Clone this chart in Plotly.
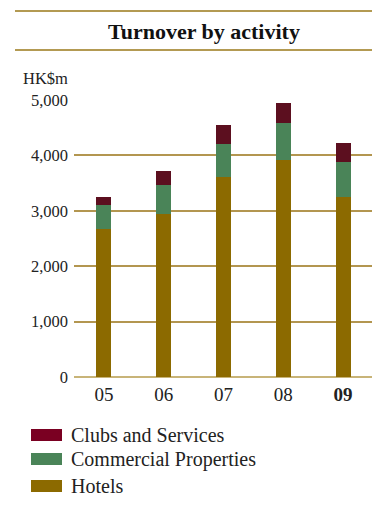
import plotly.graph_objects as go

years = ["05", "06", "07", "08", "09"]
year_labels = ["05", "06", "07", "08", "<b>09</b>"]
hotels = [2664, 2940, 3602, 3921, 3247]
commercial = [439, 524, 603, 663, 633]
clubs = [144, 253, 343, 362, 343]
y_ticks = [0, 1000, 2000, 3000, 4000, 5000]
y_tick_text = ["0", "1,000", "2,000", "3,000", "4,000", "5,000"]

series = [
    ("Hotels", hotels, "#8c6a00", "#8c6a00"),
    ("Commercial Properties", commercial, "#4a8458", "#4a8458"),
    ("Clubs and Services", clubs, "#5c0f1f", "#7a0022"),
]

FONT = "Liberation Serif"
OFF = 8  # page body margin
W, H = 380 - OFF, 508 - OFF
L, R, T, B = 74 - OFF, 7, 100 - OFF, 131
pw, ph = W - L - R, H - T - B

def px(x):
    return (x - OFF - L) / pw

def py(y):
    return (H - B - (y - OFF)) / ph

fig = go.Figure()
for name, vals, col, _ in series:
    fig.add_trace(go.Bar(x=years, y=vals, name=name, marker_color=col,
                         marker_line_width=0, width=0.25, showlegend=False))

shapes = []
annotations = []
# header rules
for yy in (11, 50):
    shapes.append(dict(type="line", xref="paper", yref="paper",
                       x0=px(15), x1=px(380), y0=py(yy), y1=py(yy),
                       line=dict(color="#b39a52", width=2.2)))
annotations.append(dict(text="<b>Turnover by activity</b>", xref="paper", yref="paper",
                        x=px(204), y=py(31), xanchor="center", yanchor="middle",
                        showarrow=False, font=dict(family=FONT, size=22, color="#111")))
annotations.append(dict(text="HK$m", xref="paper", yref="paper",
                        x=px(21), y=py(78), xanchor="left", yanchor="middle",
                        showarrow=False, font=dict(family=FONT, size=16.5, color="#222")))
# custom legend
legend_rows = [(series[2], 435), (series[1], 459), (series[0], 486)]
for (name, _, _, lcol), yc in legend_rows:
    shapes.append(dict(type="rect", xref="paper", yref="paper",
                       x0=px(31), x1=px(62), y0=py(yc - 6), y1=py(yc + 6),
                       fillcolor=lcol, line=dict(width=0)))
    annotations.append(dict(text=name, xref="paper", yref="paper",
                            x=px(69), y=py(yc), xanchor="left", yanchor="middle",
                            showarrow=False, font=dict(family=FONT, size=20, color="#222")))

fig.update_layout(
    barmode="stack",
    width=W, height=H,
    margin=dict(l=L, r=R, t=T, b=B),
    paper_bgcolor="white", plot_bgcolor="white",
    font=dict(family=FONT, color="#222"),
    shapes=shapes, annotations=annotations,
    xaxis=dict(tickmode="array", tickvals=years, ticktext=year_labels,
               tickfont=dict(size=19, family=FONT, color="#222"),
               showgrid=False, showline=False, ticks="", ticklabelstandoff=4),
    yaxis=dict(range=[0, 5000], tickmode="array", tickvals=y_ticks, ticktext=y_tick_text,
               tickfont=dict(size=16.5, family=FONT, color="#222"),
               showgrid=True, gridcolor="#b39650", gridwidth=1.5,
               zeroline=True, zerolinecolor="#c8b478", zerolinewidth=2,
               showline=False, ticks="", ticklabelstandoff=5),
)

fig.write_html("out.html")
